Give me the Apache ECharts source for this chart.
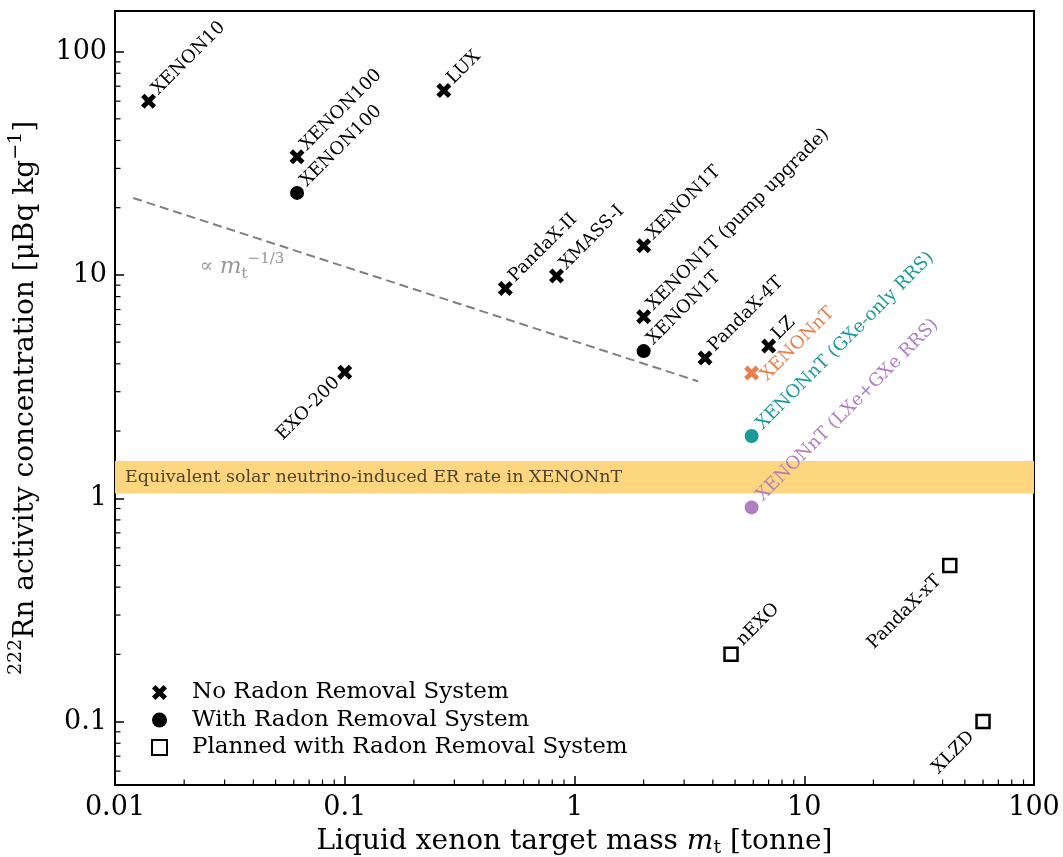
<!DOCTYPE html>
<html>
<head>
<meta charset="utf-8">
<script src="https://cdn.jsdelivr.net/npm/echarts@6/dist/echarts.min.js"></script>
<style>
  html, body { margin: 0; padding: 0; background: #fff; }
  #chart { width: 1063px; height: 857px; }
</style>
</head>
<body>
<div id="chart"></div>
<script>
// experiments without radon removal (crosses)
const crossNames = ["XENON10", "XENON100", "LUX", "PandaX-II", "XMASS-I", "XENON1T",
  "XENON1T (pump upgrade)", "EXO-200", "PandaX-4T", "LZ", "XENONnT"];
const crossX = [0.014, 0.062, 0.27, 0.5, 0.835, 2.0, 2.0, 0.1, 3.7, 7.0, 5.9];
const crossY = [60, 33.8, 67, 8.7, 9.9, 13.5, 6.5, 3.67, 4.25, 4.8, 3.64];

// with radon removal system (circles)
const circleNames = ["XENON100", "XENON1T", "XENONnT (GXe-only RRS)", "XENONnT (LXe+GXe RRS)"];
const circleX = [0.062, 2.0, 5.9, 5.9];
const circleY = [23.3, 4.56, 1.9, 0.91];

// planned (open squares)
const plannedNames = ["nEXO", "PandaX-xT", "XLZD"];
const plannedX = [4.8, 43, 60];
const plannedY = [0.2, 0.5, 0.1];

// m_t^(-1/3) guide line end points
const guideX = [0.012, 3.45];
const guideY = [22.1, 3.34];

// solar neutrino ER band
const bandLow = 1.05;
const bandHigh = 1.47;

const xTickLabels = ["0.01", "0.1", "1", "10", "100"];
const yTickLabels = ["0.1", "1", "10", "100"];
const xMin = 0.01, xMax = 100;
const yMin = 0.052, yMax = 152;

const FONT = "DejaVu Serif";
const seriesNames = ["No Radon Removal System", "With Radon Removal System", "Planned with Radon Removal System"];

// label placement / colours per point
const labelStyle = {
  "EXO-200": { side: "left", offset: [-11, 0] },
  "nEXO": { offset: [14, -2] },
  "PandaX-xT": { side: "left", offset: [-17, 1] },
  "XLZD": { side: "left", offset: [-17, 1] },
  "XENONnT": { color: "#e8804e", offset: [5, 12] },
  "XENONnT (GXe-only RRS)": { color: "#1b9a9a", offset: [12, -1] },
  "XENONnT (LXe+GXe RRS)": { color: "#b07fc2", offset: [12, -1] }
};

const crossPath = "path://M50.5 191.9L100 142.4L149.5 191.9L191.9 149.5L142.4 100L191.9 50.5L149.5 8.1L100 57.6L50.5 8.1L8.1 50.5L57.6 100L8.1 149.5Z";

function makePoints(names, xs, ys) {
  return names.map((name, i) => {
    const st = labelStyle[name] || {};
    const item = {
      name: name,
      value: [xs[i], ys[i]],
      label: {
        show: true,
        formatter: name,
        position: ["50%", "50%"],
        rotate: 45,
        align: st.side === "left" ? "right" : "left",
        verticalAlign: "middle",
        offset: st.offset || [11, -2],
        color: st.color || "#000",
        fontFamily: FONT,
        fontSize: 18
      }
    };
    if (st.color) item.itemStyle = { color: st.color, opacity: 1 };
    return item;
  });
}

// minor ticks (2..9 per decade) along left and bottom edges
const minorX = [];
[0.01, 0.1, 1, 10].forEach(d => { for (let k = 2; k <= 9; k++) minorX.push([k * d, yMin]); });
const minorY = [];
[0.01, 0.1, 1, 10, 100].forEach(d => {
  for (let k = 2; k <= 9; k++) { const v = k * d; if (v > yMin && v < yMax) minorY.push([xMin, v]); }
});

function isTick(v, list) {
  return list.find(t => Math.abs(Math.log10(v / parseFloat(t))) < 1e-6);
}

const chart = echarts.init(document.getElementById("chart"));
chart.setOption({
  animation: false,
  backgroundColor: "#fff",
  textStyle: { fontFamily: FONT },
  grid: {
    left: 115, right: 29, top: 11, bottom: 72,
    outerBoundsMode: "none",
    containLabel: false,
    show: true, borderColor: "#000", borderWidth: 2, backgroundColor: "transparent"
  },
  legend: {
    orient: "vertical",
    left: 146,
    top: 675,
    itemWidth: 15,
    itemHeight: 15,
    itemGap: 2.5,
    data: seriesNames,
    selectedMode: false,
    textStyle: { fontFamily: FONT, fontSize: 23, color: "#000", padding: [0, 0, 0, 20], lineHeight: 25 }
  },
  xAxis: {
    type: "log",
    logBase: 10,
    min: xMin,
    max: xMax,
    name: "Liquid xenon target mass {it|m}{sub|t} [tonne]",
    nameLocation: "middle",
    nameGap: 39,
    nameTextStyle: {
      fontFamily: FONT, fontSize: 28, color: "#000", lineHeight: 32,
      rich: {
        it: { fontFamily: FONT, fontSize: 28, fontStyle: "italic", color: "#000" },
        sub: { fontFamily: FONT, fontSize: 19, verticalAlign: "bottom", color: "#000", lineHeight: 32 }
      }
    },
    axisLine: { show: true, lineStyle: { color: "#000", width: 2 } },
    axisTick: { show: true, inside: true, length: 9, lineStyle: { color: "#000", width: 1.5 } },
    minorTick: { show: false },
    splitLine: { show: false },
    axisLabel: {
      margin: 9,
      fontFamily: FONT, fontSize: 27, color: "#000",
      formatter: v => isTick(v, xTickLabels) || ""
    }
  },
  yAxis: {
    type: "log",
    logBase: 10,
    min: yMin,
    max: yMax,
    name: "{sup|222}Rn activity concentration [μBq kg{sup|−1}]",
    nameLocation: "middle",
    nameRotate: 90,
    nameGap: 59,
    nameTextStyle: {
      fontFamily: FONT, fontSize: 28, color: "#000", lineHeight: 38,
      rich: {
        sup: { fontFamily: FONT, fontSize: 19, verticalAlign: "top", color: "#000" }
      }
    },
    axisLine: { show: true, lineStyle: { color: "#000", width: 2 } },
    axisTick: { show: true, inside: true, length: 9, lineStyle: { color: "#000", width: 1.5 } },
    splitLine: { show: false },
    axisLabel: {
      margin: 8,
      fontFamily: FONT, fontSize: 27, color: "#000",
      showMinLabel: false, showMaxLabel: false,
      formatter: v => isTick(v, yTickLabels) || ""
    }
  },
  series: [
    {
      name: "band",
      type: "line",
      data: [],
      z: 1,
      silent: true,
      markArea: {
        silent: true,
        itemStyle: { color: "#fed680" },
        label: {
          show: true, position: "insideLeft", distance: 10,
          fontFamily: FONT, fontSize: 17.5, color: "#4d4330"
        },
        data: [[
          { name: "Equivalent solar neutrino-induced ER rate in XENONnT", yAxis: bandLow },
          { yAxis: bandHigh }
        ]]
      }
    },
    {
      name: "guide",
      type: "line",
      data: guideX.map((x, i) => [x, guideY[i]]),
      symbol: "none",
      silent: true,
      z: 2,
      lineStyle: { color: "#808080", width: 2, type: [9, 5] }
    },
    {
      name: "guideLabel",
      type: "scatter",
      data: [[0.0234, 10.9]],
      symbolSize: 1,
      silent: true,
      itemStyle: { color: "transparent" },
      label: {
        show: true,
        position: ["50%", "50%"],
        align: "left",
        verticalAlign: "middle",
        formatter: "∝ {it|m}{sub|t}{sup|−1/3}",
        color: "#808080",
        fontFamily: FONT,
        fontSize: 20,
        lineHeight: 30,
        rich: {
          it: { fontFamily: FONT, fontSize: 23, fontStyle: "italic", color: "#808080" },
          sub: { fontFamily: FONT, fontSize: 15, verticalAlign: "bottom", color: "#808080" },
          sup: { fontFamily: FONT, fontSize: 15, verticalAlign: "top", color: "#808080" }
        }
      }
    },
    {
      name: seriesNames[0],
      type: "scatter",
      symbol: crossPath,
      symbolSize: 15,
      z: 5,
      itemStyle: { color: "#000", opacity: 1 },
      data: makePoints(crossNames, crossX, crossY)
    },
    {
      name: seriesNames[1],
      type: "scatter",
      symbol: "circle",
      symbolSize: 14,
      z: 5,
      itemStyle: { color: "#000", opacity: 1 },
      data: makePoints(circleNames, circleX, circleY)
    },
    {
      name: seriesNames[2],
      type: "scatter",
      symbol: "rect",
      symbolSize: 13,
      z: 5,
      itemStyle: { color: "#fff", borderColor: "#000", borderWidth: 2.5, opacity: 1 },
      data: makePoints(plannedNames, plannedX, plannedY)
    },
    {
      name: "minorX",
      type: "scatter",
      data: minorX,
      symbol: "rect",
      symbolSize: [1.2, 5],
      symbolOffset: [0, -3],
      clip: false,
      silent: true,
      itemStyle: { color: "#000", opacity: 1 }
    },
    {
      name: "minorY",
      type: "scatter",
      data: minorY,
      symbol: "rect",
      symbolSize: [5, 1.2],
      symbolOffset: [3, 0],
      clip: false,
      silent: true,
      itemStyle: { color: "#000", opacity: 1 }
    }
  ]
});
</script>
</body>
</html>
